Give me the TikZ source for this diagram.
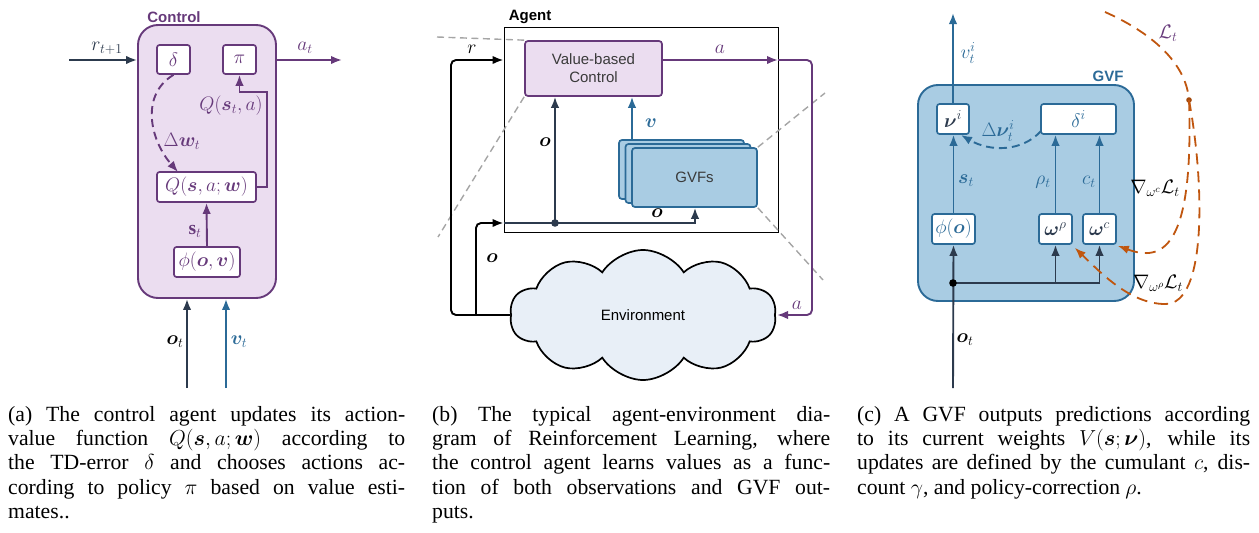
\RequirePackage{fix-cm}
\documentclass[tikz,border=0pt]{standalone}
\usepackage{amsmath,bm}
\usepackage{fontspec}
\setmainfont{Liberation Serif}
\setsansfont{Liberation Sans}
\usetikzlibrary{arrows.meta,shapes.symbols,calc}

\definecolor{cpurple}{HTML}{66397A}
\definecolor{cpurplefill}{HTML}{EBDDF0}
\definecolor{cblue}{HTML}{2B6A97}
\definecolor{cbluefill}{HTML}{A9CCE3}
\definecolor{cnavy}{HTML}{2C3A4D}
\definecolor{corange}{HTML}{C0560F}
\definecolor{cgray}{HTML}{A5A5A5}
\definecolor{cloudfill}{HTML}{E8EFF7}
\definecolor{ctext}{HTML}{3A3A3A}

\newcommand\mathsize{\fontsize{19.5}{21}\selectfont}
\newcommand\sanssize{\sffamily\fontsize{15}{17}\selectfont}
\newcommand\capsize{\fontsize{21.7}{24.4}\selectfont}

\tikzset{
  tip/.tip={Latex[length=11pt,width=8.5pt]},
  ar/.style={-tip, line width=1.9pt},
  lbl/.style={font=\mathsize, inner sep=0pt},
  title/.style={font=\sanssize\bfseries, inner sep=0pt},
  smallbox/.style={draw, fill=white, line width=1.7pt, rounded corners=2.5pt,
    inner sep=0pt, font=\mathsize},
  purplebox/.style={smallbox, draw=cpurple, text=cpurple},
  bluebox/.style={smallbox, draw=cblue, text=cblue},
  gvfcard/.style={draw=cblue, fill=cbluefill, line width=1.7pt, rounded corners=3pt,
    minimum width=125pt, minimum height=59pt, inner sep=0pt},
  zoomline/.style={cgray, line width=1.4pt, dash pattern=on 7pt off 4.5pt},
  lossline/.style={corange, line width=1.8pt, dash pattern=on 11pt off 7pt},
  caption/.style={anchor=base west, inner sep=0pt},
}

\begin{document}
\begin{tikzpicture}[x=1pt, y=-1pt]
\useasboundingbox (0,0) rectangle (1259,533);

% ---------------- (a) control agent ----------------
\node[draw=cpurple, fill=cpurplefill, line width=1.9pt, rounded corners=20pt,
      minimum width=138pt, minimum height=273pt, inner sep=0pt] (ctrl) at (207,161.5) {};
\node[title, text=cpurple] (ctrltitle) at (174,17) {Control};

\node[purplebox, minimum width=33pt, minimum height=29pt] (delta) at (173.5,59.5) {$\delta$};
\node[purplebox, minimum width=33pt, minimum height=29pt] (pi) at (239.5,59.5) {$\pi$};
\node[purplebox, minimum width=99pt, minimum height=30pt] (Q) at (206.5,187) {$Q(\bm{s},a;\bm{w})$};
\node[purplebox, minimum width=66pt, minimum height=30pt] (phi) at (207,262) {$\phi(\bm{o},\bm{v})$};

\coordinate (rin) at (69,60);
\coordinate (aout) at (342,60);
\coordinate (qturn) at (267,92);
\coordinate (qin) at (178,172);
\coordinate (ota) at (187,388);
\coordinate (vta) at (226,388);

\draw[ar, cnavy] (rin) -- (rin -| ctrl.west);
\draw[ar, cpurple] (ctrl.east |- aout) -- (aout);
\draw[ar, cpurple] (Q.east) -| (qturn) -| (pi.south);
\draw[ar, cpurple, dash pattern=on 8pt off 5pt] (delta.south) .. controls (140,95) and (150,140) .. (qin);
\draw[ar, cpurple] (phi.north) -- (Q.south);
\draw[ar, cnavy] (ota) -- (ota |- ctrl.south);
\draw[ar, cblue] (vta) -- (vta |- ctrl.south);

\node[lbl, text=cnavy] (rlbl) at (107,48) {$r_{t+1}$};
\node[lbl, text=cpurple] (atlbl) at (305,48) {$a_t$};
\node[lbl, text=cpurple] (qsalbl) at (231,106) {$Q(\bm{s}_t,a)$};
\node[lbl, text=cpurple] (dwlbl) at (182,141) {$\Delta\bm{w}_t$};
\node[lbl, text=cpurple] (stlbl) at (195,231) {$\mathbf{s}_t$};
\node[lbl, text=black] (otlbl) at (175,342) {$\bm{o}_t$};
\node[lbl, text=cblue] (vtlbl) at (239,342) {$\bm{v}_t$};

% ---------------- (b) agent and environment ----------------
\node[draw=black, line width=1pt, minimum width=274pt, minimum height=205pt, inner sep=0pt] (agent) at (641,129.5) {};
\node[title, text=black] (agenttitle) at (530,17) {Agent};

\node[draw=cpurple, fill=cpurplefill, line width=1.7pt, rounded corners=3pt,
      minimum width=137pt, minimum height=55pt, inner sep=0pt, align=center,
      font=\sanssize, text=ctext] (vbc) at (593.5,68.5) {Value-based\\[1pt]Control};

\node[gvfcard] (gvf3) at (681.5,169.5) {};
\node[gvfcard] (gvf2) at (688,173.5) {};
\node[gvfcard, font=\sanssize, text=ctext] (gvf1) at (694.5,177.5) {GVFs};

\node[cloud, cloud puffs=10, cloud puff arc=115, aspect=2, draw=black, fill=cloudfill,
      line width=1.7pt, minimum width=266pt, minimum height=130pt, inner sep=0pt,
      font=\sanssize, text=black] (env) at (643,315) {Environment};

\coordinate (vsrc) at (632,140);
\coordinate (ojoin) at (476,315);
\coordinate (rcorner) at (451,60);
\coordinate (ocorner) at (476,223);
\coordinate (odot) at (555,223);
\coordinate (oturn) at (695,223);
\coordinate (aend) at (778,60);
\coordinate (acorner) at (812,60);
\coordinate (zoomA1) at (437,37);
\coordinate (zoomA2) at (438,237);
\coordinate (zoomC1) at (825,93);
\coordinate (zoomC2) at (823,280);

\draw[zoomline] (zoomA1) -- (vbc.north west);
\draw[zoomline] (vbc.south west) -- (zoomA2);
\draw[zoomline] (gvf1.north east) -- (zoomC1);
\draw[zoomline] (gvf1.south east) -- (zoomC2);

\draw[ar, black, rounded corners=5pt] (env.west |- ojoin) -- (451,315) -- (rcorner) -- (rcorner -| agent.west);
\draw[ar, black, rounded corners=5pt] (ojoin) -- (ocorner) -- (ocorner -| agent.west);
\draw[cnavy, line width=1.9pt] (ocorner -| agent.west) -- (odot);
\draw[ar, cnavy] (odot) -- (oturn) -- (gvf1.south -| oturn);
\draw[ar, cnavy] (odot) -- (odot |- vbc.south);
\fill[cnavy] (odot) circle (3.8pt);
\draw[ar, cblue] (vsrc) -- (vsrc |- vbc.south);
\draw[ar, cpurple] (vbc.east |- aend) -- (aend);
\draw[ar, cpurple, rounded corners=5pt] (aend) -- (acorner) -- (812,315) -- (777,315);

\node[lbl, text=black] (rlblb) at (472,49) {$r$};
\node[lbl, text=black] (olbl1) at (492,258) {$\bm{o}$};
\node[lbl, text=black] (olbl2) at (545,142) {$\bm{o}$};
\node[lbl, text=black] (olbl3) at (657,213) {$\bm{o}$};
\node[lbl, text=cblue] (vlbl) at (651,123) {$\bm{v}$};
\node[lbl, text=cpurple] (albl1) at (720,49) {$a$};
\node[lbl, text=cpurple] (albl2) at (797,305) {$a$};

% ---------------- (c) a single GVF ----------------
\node[draw=cblue, fill=cbluefill, line width=1.9pt, rounded corners=20pt,
      minimum width=216pt, minimum height=216pt, inner sep=0pt] (gvfbox) at (1026,193) {};
\node[title, text=cblue] (gvftitle) at (1108,76) {GVF};

\node[bluebox, minimum width=32pt, minimum height=30pt, text=cnavy] (nu) at (953,119) {$\bm{\nu}^i$};
\node[bluebox, minimum width=75pt, minimum height=30pt] (deltai) at (1078.5,119) {$\delta^i$};
\node[bluebox, minimum width=43pt, minimum height=30pt] (phio) at (953.5,229) {$\phi(\bm{o})$};
\node[bluebox, minimum width=33pt, minimum height=30pt, text=cnavy] (wrho) at (1055.5,229) {$\bm{\omega}^\rho$};
\node[bluebox, minimum width=33pt, minimum height=30pt, text=cnavy] (wc) at (1099.5,229) {$\bm{\omega}^c$};

\coordinate (vti) at (953,13);
\coordinate (oti) at (953,388);
\coordinate (jn) at (953,283);
\coordinate (dnuend) at (961,135);
\coordinate (lstart) at (1105,12);
\coordinate (ldot) at (1189,100);
\coordinate (lbend) at (1165,304);

\draw[ar, cblue] (nu.north) -- (vti);
\draw[ar, cblue] (phio.north) -- (nu.south -| phio.north);
\draw[ar, cblue] (wrho.north) -- (wrho.north |- deltai.south);
\draw[ar, cblue] (wc.north) -- (wc.north |- deltai.south);
\draw[ar, cblue, dash pattern=on 8pt off 5pt] ($(deltai.south west)+(1,-4)$) .. controls (1022,152) and (990,152) .. (dnuend);

\draw[ar, cnavy] (oti) -- (phio.south);
\draw[ar, cnavy] (jn) -| (wc.south);
\draw[ar, cnavy] (jn -| wrho.south) -- (wrho.south);
\fill[black] (jn) circle (3.8pt);

\draw[lossline] (lstart) .. controls (1150,32) and (1186,62) .. (ldot);
\fill[corange!85!black] (ldot) circle (2.8pt);
\draw[lossline, -tip] (ldot) .. controls (1194,250) and (1162,262) .. ($(wc.south east)+(1,1)$);
\draw[lossline] (ldot) .. controls (1204,180) and (1208,305) .. (lbend);
\draw[lossline, -tip] (lbend) .. controls (1130,304) and (1100,272) .. ($(wrho.south east)+(2,3)$);

\node[lbl, text=cblue] (vtilbl) at (968,53) {$v_t^i$};
\node[lbl, text=cblue] (stlblc) at (966,181) {$\bm{s}_t$};
\node[lbl, text=cblue] (rholbl) at (1043,182) {$\rho_t$};
\node[lbl, text=cblue] (ctlbl) at (1089,182) {$c_t$};
\node[lbl, text=cblue] (dnulbl) at (998,131) {$\Delta\bm{\nu}_t^i$};
\node[lbl, text=black] (otlblc) at (965,340) {$\bm{o}_t$};
\node[lbl, text=cpurple] (llbl) at (1168,33) {$\mathcal{L}_t$};
\node[lbl, text=black] (gclbl) at (1155,188) {$\nabla_{\omega^c}\mathcal{L}_t$};
\node[lbl, text=black] (grlbl) at (1158,283) {$\nabla_{\omega^\rho}\mathcal{L}_t$};

% ---------------- captions ----------------
\node[caption] (capa) at (8,421) {\parbox[t]{397pt}{\capsize\hyphenpenalty=10000\tolerance=10000
(a) The control agent updates its action-\linebreak
value function $Q(\bm{s},a;\bm{w})$ according to\linebreak
the TD-error $\delta$ and chooses actions ac-\linebreak
cording to policy $\pi$ based on value esti-\linebreak
mates..}};
\node[caption] (capb) at (432,421) {\parbox[t]{398pt}{\capsize\hyphenpenalty=10000\tolerance=10000
(b) The typical agent-environment dia-\linebreak
gram of Reinforcement Learning, where\linebreak
the control agent learns values as a func-\linebreak
tion of both observations and GVF out-\linebreak
puts.}};
\node[caption] (capc) at (857,421) {\parbox[t]{393pt}{\capsize\hyphenpenalty=10000\tolerance=10000
(c) A GVF outputs predictions according\linebreak
to its current weights $V(\bm{s};\bm{\nu})$, while its\linebreak
updates are defined by the cumulant $c$, dis-\linebreak
count $\gamma$, and policy-correction $\rho$.}};

\end{tikzpicture}
\end{document}
